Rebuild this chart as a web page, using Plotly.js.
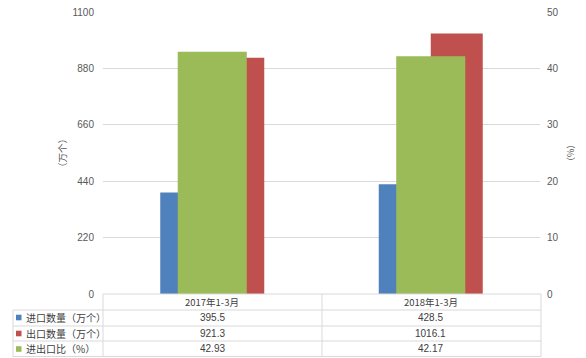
<!DOCTYPE html>
<html><head><meta charset="utf-8">
<script src="https://cdn.plot.ly/plotly-3.0.1.min.js"></script>
<style>html,body{margin:0;padding:0;background:#fff;}#chart{width:586px;height:358px;}</style>
</head><body><div id="chart"></div>
<script>
const categories = ['2017年1-3月', '2018年1-3月'];
const importQty = [395.5, 428.5];
const exportQty = [921.3, 1016.1];
const ratio = [42.93, 42.17];
const seriesNames = ['进口数量（万个）', '出口数量（万个）', '进出口比（%）'];
const seriesColors = ['#4F81BD', '#C0504D', '#9BBB59'];
const leftTicks = [0, 220, 440, 660, 880, 1100];
const rightTicks = [0, 10, 20, 30, 40, 50];

const W = 586, H = 358, L = 103, R = 46, T = 12, B = 64;
const pw = W - L - R, ph = H - T - B;
const px = x => (x - L) / pw;          // pixel -> paper x
const py = y => (T + ph - y) / ph;     // pixel -> paper y

const FONT = 'Liberation Sans, "Noto Sans CJK SC", sans-serif';
const CJK = '"Noto Sans CJK SC", sans-serif';
const gridC = '#d9d9d9';

const traces = [
  {type: 'bar', name: seriesNames[0], x: categories, y: importQty, marker: {color: seriesColors[0]}, offset: -0.238, width: 0.238, xaxis: 'x', yaxis: 'y'},
  {type: 'bar', name: seriesNames[1], x: categories, y: exportQty, marker: {color: seriesColors[1]}, offset: 0, width: 0.238, xaxis: 'x', yaxis: 'y'},
  {type: 'bar', name: seriesNames[2], x: categories, y: ratio, marker: {color: seriesColors[2]}, offset: -0.158, width: 0.316, xaxis: 'x', yaxis: 'y2'}
];

const shapes = [];
const annotations = [];
function hline(y, x0, x1) { shapes.push({type: 'line', xref: 'paper', yref: 'paper', x0: px(x0), x1: px(x1), y0: py(y), y1: py(y), line: {color: gridC, width: 1}}); }
function vline(x, y0, y1) { shapes.push({type: 'line', xref: 'paper', yref: 'paper', x0: px(x), x1: px(x), y0: py(y0), y1: py(y1), line: {color: gridC, width: 1}}); }

// table grid
hline(294, 103, 541);
const rowLines = [310, 326, 341, 356.5];
rowLines.forEach(y => hline(y, 13, 541));
vline(103, 294, 356.5); vline(322, 294, 356.5); vline(541, 294, 356.5);
vline(13, 310, 356.5);

// header
categories.forEach((c, i) => annotations.push({xref: 'x', yref: 'paper', x: c, y: py(302), text: c, showarrow: false, font: {family: CJK, size: 9.5, color: '#404040'}, xanchor: 'center', yanchor: 'middle'}));
const rowsY = [317.5, 333.5, 349];
const rowVals = [importQty, exportQty, ratio];
rowVals.forEach((vals, r) => {
  vals.forEach((v, i) => annotations.push({xref: 'x', yref: 'paper', x: categories[i], y: py(rowsY[r]), text: String(v), showarrow: false, font: {family: FONT, size: 10, color: '#404040'}, xanchor: 'center', yanchor: 'middle'}));
  shapes.push({type: 'rect', xref: 'paper', yref: 'paper', x0: px(16), x1: px(21.5), y0: py(rowsY[r] - 2.8), y1: py(rowsY[r] + 2.8), fillcolor: seriesColors[r], line: {width: 0}});
  annotations.push({xref: 'paper', yref: 'paper', x: px(24), y: py(rowsY[r]), text: seriesNames[r], showarrow: false, font: {family: CJK, size: 10, color: '#404040'}, xanchor: 'left', yanchor: 'middle'});
});

// axis titles
annotations.push({xref: 'paper', yref: 'paper', x: px(62), y: py(153), text: '（万个）', textangle: -90, showarrow: false, font: {family: CJK, size: 9.5, color: '#595959'}, xanchor: 'center', yanchor: 'middle'});
annotations.push({xref: 'paper', yref: 'paper', x: px(570), y: py(153), text: '（%）', textangle: -90, showarrow: false, font: {family: CJK, size: 9, color: '#595959'}, xanchor: 'center', yanchor: 'middle'});

const layout = {
  width: W, height: H,
  margin: {l: L, r: R, t: T, b: B, pad: 0},
  paper_bgcolor: '#fff', plot_bgcolor: '#fff',
  showlegend: false,
  barmode: 'overlay',
  xaxis: {type: 'category', range: [-0.5, 1.5], showticklabels: false, showgrid: false, zeroline: false, showline: false, ticks: ''},
  yaxis: {range: [0, 1100], tickvals: leftTicks, ticktext: leftTicks.map(String), showgrid: true, gridcolor: gridC, gridwidth: 1, zeroline: false, showline: false, ticks: '', ticklabelstandoff: 8, tickfont: {family: FONT, size: 10, color: '#595959'}},
  yaxis2: {range: [0, 50], tickvals: rightTicks, ticktext: rightTicks.map(String), overlaying: 'y', side: 'right', showgrid: false, zeroline: false, showline: false, ticks: '', ticklabelstandoff: 6, tickfont: {family: FONT, size: 10, color: '#595959'}},
  shapes: shapes,
  annotations: annotations
};

Plotly.newPlot('chart', traces, layout, {staticPlot: true, displayModeBar: false});
</script>
</body></html>
